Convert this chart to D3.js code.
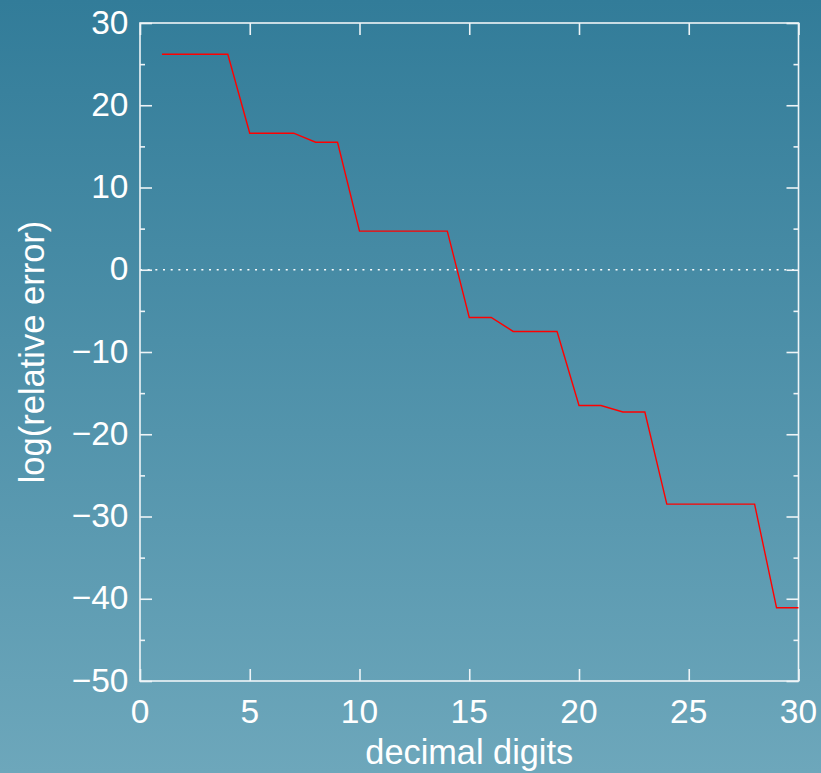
<!DOCTYPE html>
<html>
<head>
<meta charset="utf-8">
<script src="https://cdn.jsdelivr.net/npm/d3@7"></script>
<style>
  html, body { margin: 0; padding: 0; }
  body { width: 821px; height: 773px; overflow: hidden; }
  svg { display: block; }
  text { font-family: "Liberation Sans", Arial, Helvetica, sans-serif; fill: #ffffff; }
</style>
</head>
<body>
<svg id="chart" width="821" height="773"></svg>
<script>
// Number of decimal digits carried in the computation
const digits = [1, 2, 3, 4, 5, 6, 7, 8, 9, 10, 11, 12, 13, 14, 15,
                16, 17, 18, 19, 20, 21, 22, 23, 24, 25, 26, 27, 28, 29, 30];
// log10 of the relative error obtained at each precision
const logRelError = [26.2, 26.2, 26.2, 26.2, 16.6, 16.6, 16.6, 15.5, 15.5, 4.7,
                     4.7, 4.7, 4.7, 4.7, -5.8, -5.8, -7.5, -7.5, -7.5, -16.5,
                     -16.5, -17.3, -17.3, -28.5, -28.5, -28.5, -28.5, -28.5, -41.1, -41.1];

const xTicks = [0, 5, 10, 15, 20, 25, 30];
const yTicks = [-50, -40, -30, -20, -10, 0, 10, 20, 30];
const yMinorTicks = [-45, -35, -25, -15, -5, 5, 15, 25];

const W = 821, H = 773;
const frame = { left: 140, right: 798.5, top: 23, bottom: 681 };

const svg = d3.select("#chart");

// Background: vertical gradient from deep teal to pale blue
const defs = svg.append("defs");
const grad = defs.append("linearGradient")
  .attr("id", "bg").attr("x1", 0).attr("y1", 0).attr("x2", 0).attr("y2", 1);
grad.append("stop").attr("offset", 0).attr("stop-color", "#327c99");
grad.append("stop").attr("offset", 1).attr("stop-color", "#6da7bb");
svg.append("rect").attr("width", W).attr("height", H).attr("fill", "url(#bg)");

const x = d3.scaleLinear().domain([0, 30]).range([frame.left, frame.right]);
const y = d3.scaleLinear().domain([-50, 30]).range([frame.bottom, frame.top]);

const tickColor = "#eef4f7";
const fmt = d3.format("");

// Zero reference line
svg.append("line")
  .attr("x1", x(0)).attr("x2", x(30))
  .attr("y1", y(0)).attr("y2", y(0))
  .attr("stroke", "#ffffff").attr("stroke-width", 1.6)
  .attr("stroke-dasharray", "2 5.67");

// Frame
svg.append("rect")
  .attr("x", frame.left).attr("y", frame.top)
  .attr("width", frame.right - frame.left).attr("height", frame.bottom - frame.top)
  .attr("fill", "none").attr("stroke", tickColor).attr("stroke-width", 1.6);

// Inward ticks on all four sides using d3 axes
const major = 12, minor = 5;

const bottomAxis = d3.axisTop(x).tickValues(xTicks).tickSize(major).tickFormat("");
const topAxis = d3.axisBottom(x).tickValues(xTicks).tickSize(major).tickFormat("");
const leftAxis = d3.axisRight(y).tickValues(yTicks).tickSize(major).tickFormat("");
const rightAxis = d3.axisLeft(y).tickValues(yTicks).tickSize(major).tickFormat("");
const leftMinor = d3.axisRight(y).tickValues(yMinorTicks).tickSize(minor).tickFormat("");
const rightMinor = d3.axisLeft(y).tickValues(yMinorTicks).tickSize(minor).tickFormat("");

function drawTicks(axis, tx, ty) {
  const g = svg.append("g").attr("transform", `translate(${tx},${ty})`).call(axis);
  g.select(".domain").remove();
  g.selectAll(".tick line").attr("stroke", tickColor).attr("stroke-width", 1.6);
  g.selectAll(".tick text").remove();
  return g;
}
drawTicks(bottomAxis, 0, frame.bottom);
drawTicks(topAxis, 0, frame.top);
drawTicks(leftAxis, frame.left, 0);
drawTicks(rightAxis, frame.right, 0);
drawTicks(leftMinor, frame.left, 0);
drawTicks(rightMinor, frame.right, 0);

// Tick labels
const fontSize = 33.5;
svg.append("g").selectAll("text").data(xTicks).join("text")
  .attr("x", d => x(d)).attr("y", 723)
  .attr("text-anchor", "middle")
  .attr("font-size", fontSize)
  .text(d => fmt(d));

svg.append("g").selectAll("text").data(yTicks).join("text")
  .attr("x", 128.5).attr("y", d => y(d))
  .attr("dy", "0.32em")
  .attr("text-anchor", "end")
  .attr("font-size", fontSize)
  .text(d => fmt(d));

// Axis titles
svg.append("text")
  .attr("x", (frame.left + frame.right) / 2).attr("y", 764)
  .attr("text-anchor", "middle")
  .attr("font-size", 34.3)
  .text("decimal digits");

svg.append("text")
  .attr("transform", `translate(44,${(frame.top + frame.bottom) / 2}) rotate(-90)`)
  .attr("text-anchor", "middle")
  .attr("font-size", 34.5)
  .text("log(relative error)");

// Error curve
const line = d3.line().x((d, i) => x(digits[i])).y(d => y(d));
svg.append("path")
  .datum(logRelError)
  .attr("d", line)
  .attr("fill", "none")
  .attr("stroke", "#ff0000")
  .attr("stroke-width", 1.4)
  .attr("stroke-linejoin", "miter");
</script>
</body>
</html>
